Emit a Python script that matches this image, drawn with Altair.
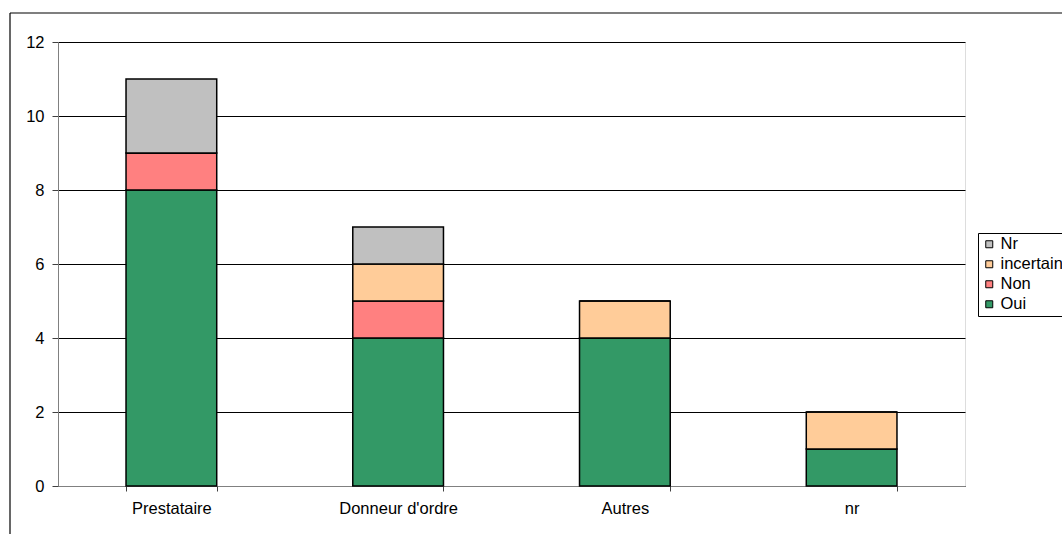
import altair as alt
import pandas as pd

# Survey answers by respondent type
categories = ["Prestataire", "Donneur d'ordre", "Autres", "nr"]
answers = ["Oui", "Non", "incertain", "Nr"]
oui = [8, 4, 4, 1]
non = [1, 1, 0, 0]
incertain = [0, 1, 1, 1]
nr = [2, 1, 0, 0]

colors = ["#339966", "#FF8080", "#FFCC99", "#C0C0C0"]

rows = []
for i, cat in enumerate(categories):
    for k, (ans, vals) in enumerate(zip(answers, [oui, non, incertain, nr])):
        rows.append({"cat": cat, "answer": ans, "value": vals[i], "order": k})
df = pd.DataFrame(rows)

FONT = "Liberation Sans"
FS = 16.5

bars = alt.Chart(df).mark_bar(stroke="black", strokeWidth=1.5).encode(
    x=alt.X("cat:N", sort=categories, title=None,
            scale=alt.Scale(paddingInner=0.6, paddingOuter=0.3),
            axis=alt.Axis(labelAngle=0, tickBand="extent", domainColor="#808080",
                          tickColor="#404040", tickSize=5, labelPadding=9,
                          labelFontSize=FS, labelFont=FONT, labelColor="black",
                          grid=False)),
    y=alt.Y("value:Q", stack="zero", title=None,
            scale=alt.Scale(domain=[0, 12], nice=False),
            axis=alt.Axis(values=[0, 2, 4, 6, 8, 10, 12], grid=True, gridColor="black",
                          gridWidth=1, domainColor="#808080", tickColor="#404040",
                          tickSize=6, labelPadding=8, labelFontSize=FS,
                          labelFont=FONT, labelColor="black")),
    color=alt.Color("answer:N", sort=list(reversed(answers)),
                    scale=alt.Scale(domain=list(reversed(answers)),
                                    range=list(reversed(colors))),
                    legend=alt.Legend(title=None, orient="none", legendX=920, legendY=191,
                                      symbolType="square", symbolSize=49,
                                      symbolStrokeColor="black", symbolStrokeWidth=1,
                                      labelFontSize=FS, labelFont=FONT, labelColor="black",
                                      rowPadding=3, padding=3, strokeColor="black",
                                      fillColor="white", symbolOpacity=1, labelOffset=3)),
    order=alt.Order("order:Q"),
)

# Outer chart frame
frame = alt.Chart(alt.Data(values=[{}])).mark_rule(color="black", strokeWidth=1.2, clip=False)
frame_left = frame.encode(x=alt.value(-48), y=alt.value(-29), y2=alt.value(500))
frame_top = frame.encode(x=alt.value(-48), x2=alt.value(1100), y=alt.value(-29))

chart = alt.layer(frame_left, frame_top, bars).properties(
    width=907, height=444,
    autosize=alt.AutoSizeParams(type="none"),
    padding={"left": 58, "top": 42, "right": 97, "bottom": 48},
).configure_view(stroke=None).configure(background="white")

chart.save("out.html", embed_options={"renderer": "svg", "actions": False})
